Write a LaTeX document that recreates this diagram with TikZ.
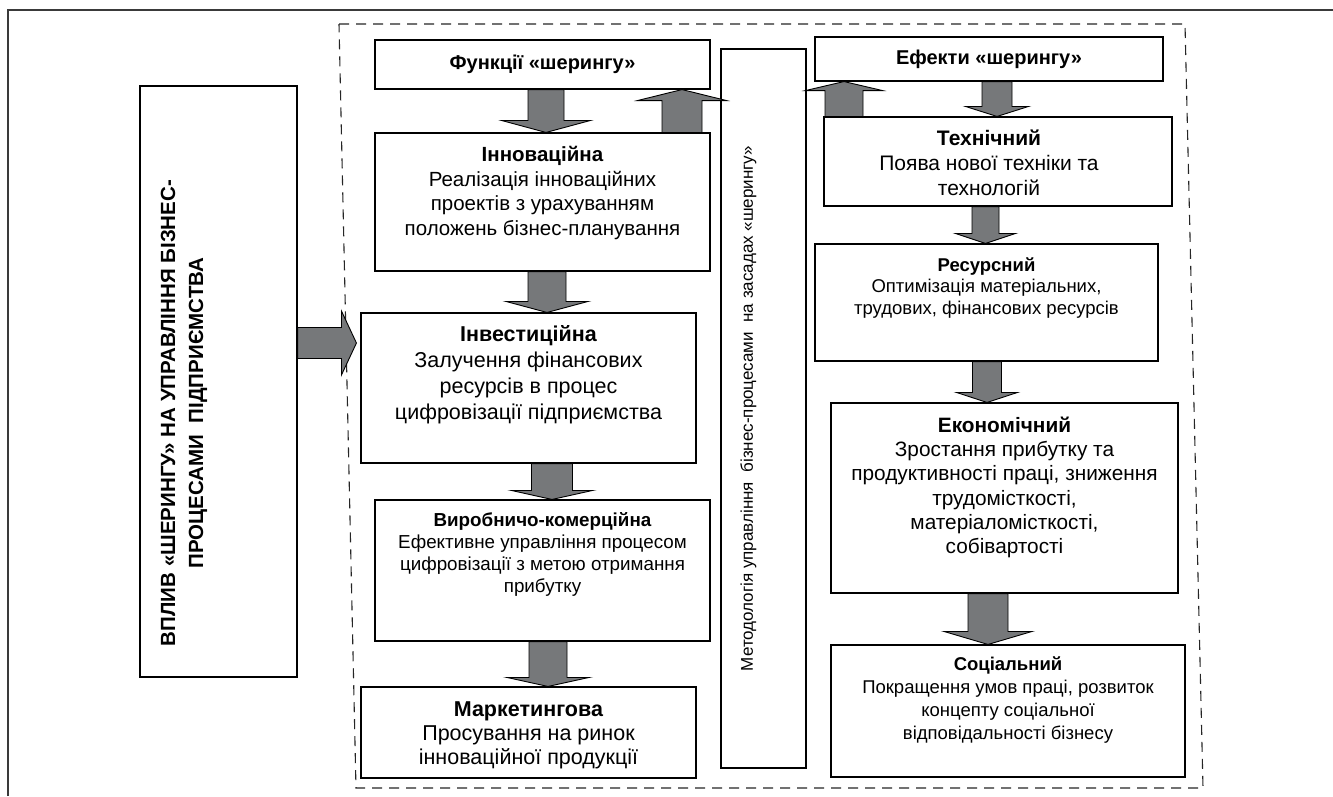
\documentclass[tikz,border=0pt]{standalone}
\usepackage{fontspec}
\setmainfont{Liberation Sans}
\usetikzlibrary{calc,positioning}

\definecolor{arrowgray}{RGB}{118,120,122}
\definecolor{framegray}{RGB}{58,58,58}

% font sizes of the boxes
\newcommand{\bigtxt}{\fontsize{20pt}{24.5pt}\selectfont}
\newcommand{\inntxt}{\fontsize{20.5pt}{24.5pt}\selectfont}
\newcommand{\invtxt}{\fontsize{21.5pt}{26pt}\selectfont}
\newcommand{\marktxt}{\fontsize{21.5pt}{24pt}\selectfont}
\newcommand{\techtxt}{\fontsize{21pt}{25pt}\selectfont}
\newcommand{\econtxt}{\fontsize{20.8pt}{24.3pt}\selectfont}
\newcommand{\smalltxt}{\fontsize{18.8pt}{22pt}\selectfont}
\newcommand{\restxt}{\fontsize{18.5pt}{21.5pt}\selectfont}
\newcommand{\soctxt}{\fontsize{18.5pt}{23pt}\selectfont}
\newcommand{\methtxt}{\fontsize{17pt}{20pt}\selectfont}
\newcommand{\vplyvtxt}{\fontsize{20.5pt}{28pt}\selectfont\bfseries}

\tikzset{
  box/.style={draw=black, line width=1.1pt, fill=white, inner sep=0pt},
  txt/.style={align=center, inner sep=0pt},
  fatarrow/.style={fill=arrowgray, draw=black, line width=0.9pt, line join=miter},
  frameline/.style={draw=framegray, line width=2.4pt},
  dashline/.style={draw=black!85, line width=1.1pt, dash pattern=on 10pt off 7pt},
}

% block arrow: start, tip, shaft half width, head half width, head length
\newcommand{\blockarrow}[5]{%
  \coordinate (as) at #1;
  \coordinate (ae) at #2;
  \coordinate (ah) at ($(ae)!#5!(as)$);
  \filldraw[fatarrow] ($(as)!#3!90:(ae)$) -- ($(ah)!#3!90:(ae)$) -- ($(ah)!#4!90:(ae)$)
    -- (ae) -- ($(ah)!#4!-90:(ae)$) -- ($(ah)!#3!-90:(ae)$) -- ($(as)!#3!-90:(ae)$) -- cycle;
}

\begin{document}
\begin{tikzpicture}[x=1pt,y=-1pt]
\useasboundingbox[fill=white] (0,0) rectangle (1333,796);
% Outer frame and dashed group
\draw[frameline] (8,796) -- (8,10) -- (1333,10);
\draw[dashline] (339,24) -- (1185,24) -- (1203,788) -- (356,788) -- cycle;

% Drawing boxes
% Left column: influence
\node[box, minimum width=157pt, minimum height=591pt] (vplyv) at (218.5,381.5) {};
\node[txt, rotate=90, font=\vplyvtxt] (vplyvlabel) at (184,413)
  {ВПЛИВ «ШЕРИНГУ» НА УПРАВЛІННЯ БІЗНЕС-\\ПРОЦЕСАМИ~~ПІДПРИЄМСТВА};

% Functions column
\node[box, minimum width=335pt, minimum height=49pt, font=\bigtxt\bfseries] (fun) at (542.5,64.5) {Функції «шерингу»};
\node[box, minimum width=335pt, minimum height=138pt] (inn) at (542.5,202) {};
\node[txt, font=\inntxt, below=14pt of inn.north] (innlabel)
  {\textbf{Інноваційна}\\Реалізація інноваційних\\проектів з урахуванням\\положень бізнес-планування};
\node[box, minimum width=335pt, minimum height=150pt] (inv) at (528.5,388) {};
\node[txt, font=\invtxt, below=13pt of inv.north] (invlabel)
  {\textbf{Інвестиційна}\\Залучення фінансових\\ресурсів в процес\\цифровізації підприємства};
\node[box, minimum width=335pt, minimum height=141pt] (vyr) at (542.5,570.5) {};
\node[txt, font=\smalltxt, below=13pt of vyr.north] (vyrlabel)
  {\textbf{Виробничо-комерційна}\\Ефективне управління процесом\\цифровізації з метою отримання\\прибутку};
\node[box, minimum width=335pt, minimum height=91pt] (mark) at (528.5,732.5) {};
\node[txt, font=\marktxt, below=15pt of mark.north] (marklabel)
  {\textbf{Маркетингова}\\Просування на ринок\\інноваційної продукції};

% Methodology bar
\node[box, minimum width=85pt, minimum height=719pt] (meth) at (763.5,408.5) {};
\node[txt, rotate=90, font=\methtxt] (methlabel) at ($(meth.center)+(-15,0)$)
  {Методологія управління~~бізнес-процесами~~на засадах «шерингу»};

% Effects column
\node[box, minimum width=348pt, minimum height=44pt, font=\bigtxt\bfseries] (eff) at (989,59) {Ефекти «шерингу»};
\node[box, minimum width=348pt, minimum height=89pt] (tech) at (998,161.5) {};
\node[txt, font=\techtxt, below=13pt of tech.north, xshift=-9pt] (techlabel)
  {\textbf{Технічний}\\Поява нової техніки та\\технологій};
\node[box, minimum width=343pt, minimum height=117pt] (res) at (986.5,302.5) {};
\node[txt, font=\restxt, below=14pt of res.north] (reslabel)
  {\textbf{Ресурсний}\\Оптимізація матеріальних,\\трудових, фінансових ресурсів};
\node[box, minimum width=347pt, minimum height=190pt] (econ) at (1004.5,498) {};
\node[txt, font=\econtxt, below=14pt of econ.north] (econlabel)
  {\textbf{Економічний}\\Зростання прибутку та\\продуктивності праці, зниження\\трудомісткості,\\матеріаломісткості,\\собівартості};
\node[box, minimum width=354pt, minimum height=132pt] (soc) at (1008,711) {};
\node[txt, font=\soctxt, below=12pt of soc.north] (soclabel)
  {\textbf{Соціальний}\\Покращення умов праці, розвиток\\концепту соціальної\\відповідальності бізнесу};

% Done with boxes; drawing arrows
\blockarrow{(vplyv.east |- 0,343)}{([xshift=-4pt]inv.west |- 0,343)}{15.5pt}{32pt}{15pt}
\blockarrow{(546,0 |- fun.south)}{(546,0 |- inn.north)}{18pt}{44.5pt}{12pt}
\blockarrow{(547,0 |- inn.south)}{(547,0 |- inv.north)}{19pt}{41pt}{11pt}
\blockarrow{(552,0 |- inv.south)}{(552,0 |- vyr.north)}{20.5pt}{40.5pt}{9pt}
\blockarrow{(548,0 |- vyr.south)}{(548,0 |- mark.north)}{19pt}{41pt}{9pt}
\blockarrow{(682,0 |- inn.north)}{(682,0 |- fun.south)}{20pt}{44.5pt}{11pt}
\blockarrow{(844,0 |- tech.north)}{(844,0 |- eff.south)}{19pt}{38.5pt}{9pt}
\blockarrow{(997,0 |- eff.south)}{(997,0 |- tech.north)}{15pt}{31.5pt}{10pt}
\blockarrow{(985.5,0 |- tech.south)}{(985.5,0 |- res.north)}{13.5pt}{30pt}{10pt}
\blockarrow{(987,0 |- res.south)}{(987,0 |- econ.north)}{14.5pt}{30.5pt}{10pt}
\blockarrow{(988,0 |- econ.south)}{(988,0 |- soc.north)}{20pt}{44pt}{13pt}
% Done with arrows
\end{tikzpicture}
\end{document}
